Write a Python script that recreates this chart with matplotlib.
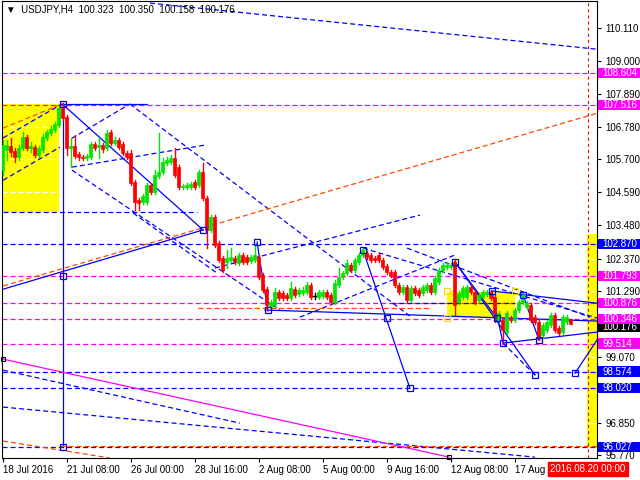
import matplotlib
matplotlib.use("Agg")
import matplotlib.pyplot as plt
from matplotlib.patches import Rectangle
from matplotlib.transforms import blended_transform_factory

plt.rcParams['font.family'] = ['Liberation Sans', 'DejaVu Sans']
plt.rcParams['lines.scale_dashes'] = False

# H4 bars from 18 Jul 2016 16:00 to 19 Aug 2016 08:00
opens = [105.34, 106.01, 106.14, 105.98, 105.78, 106.08, 106.45, 106.08, 106.11, 105.84,
         106.01, 106.42, 106.58, 106.68, 106.85, 107.42, 107.12, 106.08, 106.14, 105.88,
         105.78, 105.74, 105.78, 106.21, 106.11, 106.18, 106.08, 106.62, 106.25, 106.35,
         106.21, 105.91, 105.91, 104.94, 104.33, 104.27, 104.27, 104.84, 104.60, 105.14,
         105.27, 105.57, 105.61, 105.74, 105.44, 104.77, 104.77, 104.77, 104.94, 104.84,
         105.27, 104.40, 103.33, 103.76, 102.89, 102.38, 102.25, 102.32, 102.38, 102.22,
         102.48, 102.42, 102.28, 102.32, 102.42, 101.81, 101.34, 100.74, 100.81, 101.24,
         101.21, 101.14, 101.04, 101.34, 101.18, 101.21, 101.24, 101.48, 101.11, 101.07,
         101.11, 101.24, 101.14, 100.91, 101.48, 101.75, 101.88, 102.15, 101.98, 102.25,
         102.48, 102.55, 102.48, 102.38, 102.48, 102.32, 102.11, 101.91, 101.91, 101.48,
         101.24, 101.41, 100.97, 101.38, 101.31, 101.21, 101.31, 101.48, 101.24, 101.58,
         101.98, 102.08, 102.08, 102.25, 100.91, 101.07, 101.07, 101.41, 101.24, 100.97,
         101.07, 101.18, 101.24, 101.07, 100.30, 100.30, 99.90, 100.37, 100.30, 100.64,
         100.91, 100.74, 100.81, 100.40, 100.24, 99.80, 99.97, 100.13, 100.47, 100.03,
         99.90, 100.24, 100.323]
highs = [106.35, 106.35, 106.42, 106.08, 106.18, 106.62, 106.52, 106.28, 106.18, 106.14,
         106.55, 106.68, 106.82, 106.95, 107.49, 107.59, 107.19, 106.42, 106.52, 105.94,
         105.84, 105.88, 106.28, 106.28, 106.42, 106.25, 106.68, 106.68, 106.45, 106.42,
         106.28, 105.98, 106.01, 105.00, 104.40, 104.53, 104.90, 104.90, 105.34, 106.58,
         105.74, 105.78, 105.84, 106.08, 105.51, 104.87, 104.90, 104.94, 105.00, 105.34,
         105.57, 104.47, 103.83, 103.83, 102.96, 102.45, 102.65, 102.72, 102.45, 102.55,
         102.55, 102.48, 102.48, 102.86, 102.48, 101.88, 101.41, 100.97, 101.38, 101.31,
         101.28, 101.21, 101.58, 101.41, 101.38, 101.41, 101.58, 101.54, 101.21, 101.31,
         101.31, 101.31, 101.21, 101.65, 102.05, 101.95, 102.32, 102.22, 102.38, 102.55,
         102.72, 102.62, 102.55, 102.45, 102.55, 102.38, 102.18, 101.98, 101.98, 101.54,
         101.48, 101.48, 101.44, 101.44, 101.38, 101.48, 101.54, 101.54, 101.78, 102.05,
         102.22, 102.25, 102.22, 102.35, 101.28, 101.44, 101.48, 101.48, 101.31, 101.21,
         101.31, 101.31, 101.31, 101.14, 100.61, 100.37, 100.61, 100.44, 100.71, 100.97,
         101.21, 100.94, 100.87, 100.47, 100.30, 100.20, 100.30, 100.54, 100.54, 100.10,
         100.47, 100.47, 100.350]
lows = [105.17, 105.68, 105.81, 105.61, 105.68, 106.01, 106.01, 105.94, 105.78, 105.78,
        105.94, 106.35, 106.52, 106.62, 106.78, 107.02, 105.84, 105.44, 105.74, 105.68,
        105.68, 105.68, 105.71, 106.01, 105.74, 105.94, 106.01, 106.18, 106.18, 106.04,
        105.84, 105.71, 104.84, 104.00, 104.00, 104.20, 104.20, 104.53, 104.53, 105.07,
        105.21, 105.51, 105.54, 105.11, 104.70, 104.70, 104.70, 104.70, 104.70, 104.77,
        104.33, 102.72, 103.26, 102.75, 102.25, 101.91, 102.05, 102.25, 102.18, 102.15,
        102.18, 102.18, 102.22, 102.25, 101.68, 101.24, 100.64, 100.67, 100.74, 100.97,
        100.97, 100.97, 100.97, 101.07, 101.11, 101.14, 101.18, 101.01, 101.01, 101.01,
        101.04, 101.01, 100.84, 100.84, 101.41, 101.68, 101.81, 101.91, 101.91, 102.18,
        102.42, 102.35, 102.25, 102.25, 102.25, 102.01, 101.84, 101.75, 101.41, 101.18,
        101.18, 100.91, 100.91, 101.14, 101.07, 101.14, 101.24, 101.18, 101.18, 101.51,
        101.91, 102.01, 102.01, 100.47, 100.84, 101.01, 101.01, 101.18, 100.84, 100.91,
        101.01, 101.11, 100.97, 100.24, 100.24, 99.53, 99.84, 100.24, 100.24, 100.57,
        100.84, 100.67, 100.24, 100.17, 99.63, 99.70, 99.90, 100.07, 99.90, 99.80,
        99.84, 100.17, 100.158]
closes = [106.18, 106.18, 105.94, 105.78, 106.08, 106.45, 106.08, 106.14, 105.84, 106.08,
          106.45, 106.62, 106.72, 106.88, 107.42, 107.09, 106.08, 106.14, 105.81, 105.78,
          105.74, 105.81, 106.21, 106.08, 106.18, 106.04, 106.58, 106.25, 106.35, 106.11,
          105.91, 105.78, 104.90, 104.27, 104.23, 104.47, 104.84, 104.60, 105.17, 105.27,
          105.61, 105.68, 105.74, 105.17, 104.77, 104.80, 104.84, 104.87, 104.77, 105.27,
          104.40, 103.33, 103.76, 102.82, 102.32, 101.98, 102.38, 102.42, 102.25, 102.48,
          102.25, 102.25, 102.42, 102.48, 101.75, 101.31, 100.81, 100.91, 101.24, 101.04,
          101.04, 101.04, 101.38, 101.14, 101.31, 101.31, 101.48, 101.07, 101.11, 101.24,
          101.24, 101.07, 100.91, 101.54, 101.75, 101.88, 102.22, 101.98, 102.32, 102.48,
          102.65, 102.42, 102.32, 102.32, 102.32, 102.08, 101.91, 101.81, 101.48, 101.24,
          101.41, 100.97, 101.38, 101.21, 101.14, 101.41, 101.48, 101.24, 101.71, 101.98,
          102.15, 102.15, 102.15, 100.81, 101.21, 101.38, 101.41, 101.24, 100.91, 101.14,
          101.24, 101.24, 101.04, 100.54, 100.54, 99.97, 100.54, 100.30, 100.64, 100.91,
          101.14, 100.87, 100.30, 100.24, 99.73, 100.13, 100.24, 100.47, 99.97, 99.87,
          100.40, 100.40, 100.176]

symbol = "USDJPY,H4"

date_bars = [0, 16, 32, 48, 64, 80, 96, 112, 128]
date_labels = ["18 Jul 2016", "21 Jul 08:00", "26 Jul 00:00", "28 Jul 16:00", "2 Aug 08:00",
               "5 Aug 00:00", "9 Aug 16:00", "12 Aug 08:00", "17 Aug"]
future_bar = 146.3
future_label = "2016.08.20 00:00"

price_ticks = [110.110, 109.000, 107.890, 106.780, 105.700, 104.590, 103.480, 102.370,
               101.290, 99.070, 96.850, 95.770]
magenta_levels = [108.604, 107.516, 101.793, 100.876, 100.346, 99.514]
blue_levels = [102.870, 98.574, 98.020, 96.027]
last_price = 100.176

# analysis objects, in (bar, price)
yellow_boxes = [(-1.0, 14.1, 103.93, 107.56), (111.1, 128.1, 100.37, 101.28), (146.1, 149.5, 96.03, 103.20)]
blue_solid = [((0.1, 101.34), (50.1, 103.33)), ((14.9, 107.56), (50.1, 103.33)),
              ((14.9, 107.55), (36.1, 107.55)), ((15.1, 107.56), (15.1, 96.04)),
              ((63.6, 102.92), (66.3, 100.61)), ((65.6, 100.64), (148.6, 100.27)),
              ((90.1, 102.65), (101.8, 98.02)), ((113.1, 102.25), (123.6, 100.37)),
              ((122.3, 101.28), (125.1, 99.53)), ((125.1, 99.53), (148.6, 99.90)),
              ((130.1, 101.14), (134.1, 99.63)), ((122.3, 101.28), (148.6, 100.87)),
              ((113.1, 102.25), (133.1, 98.46)), ((143.1, 98.52), (148.6, 99.63))]
blue_dashed = [((36.8, 110.95), (148.6, 109.40)), ((0.1, 98.62), (59.3, 96.84)),
               ((0.1, 97.38), (133.1, 95.70)), ((31.8, 107.56), (101.8, 100.44)),
               ((17.3, 105.34), (69.3, 100.64)), ((17.3, 106.41), (31.8, 107.56)),
               ((17.3, 105.44), (50.6, 106.18)), ((0.0, 103.93), (48.6, 103.93)),
               ((53.1, 102.05), (104.3, 103.83)), ((74.3, 100.40), (113.1, 102.49)),
               ((90.1, 102.72), (148.6, 100.37)), ((101.1, 102.72), (146.8, 100.40)),
               ((32.6, 103.90), (53.6, 101.88)), ((125.1, 99.53), (133.1, 98.46)),
               ((0.1, 106.42), (14.8, 107.56)), ((0.1, 105.00), (14.3, 106.11)),
               ((97.0, 100.88), (128.1, 100.88))]
orange_dashed = [((0.1, 101.45), (148.6, 107.25)), ((0.1, 96.24), (26.8, 95.67)),
                 ((48.8, 100.71), (106.8, 100.71)), ((14.3, 96.06), (148.6, 96.06)),
                 ((0.1, 106.75), (14.8, 107.56))]
magenta_solid = [((0.1, 98.99), (111.6, 95.70))]
blue_marks = [(15.1, 107.56), (15.1, 101.79), (15.1, 96.04), (50.1, 103.33), (63.6, 102.92),
              (66.3, 100.64), (90.1, 102.65), (96.1, 100.37), (101.8, 98.02), (113.1, 102.25),
              (122.3, 101.28), (123.6, 100.37), (125.1, 99.53), (130.1, 101.14), (134.1, 99.63),
              (133.1, 98.46), (143.1, 98.52)]
black_marks = [(0.1, 98.99), (111.6, 95.70)]
yellow_marks = [(111.1, 101.28), (128.1, 101.28), (111.1, 100.37)]

BLUE = '#0000ff'
MAG = '#ff00ff'
ORANGE = '#ff4500'
BULL = '#00e600'
BEAR = '#ff0000'
dash = (0, (3.6, 2.2))

fig = plt.figure(figsize=(6.4, 4.8), dpi=100)
ax = fig.add_axes([2 / 640, 22 / 480, 595 / 640, 457 / 480])
ax.set_xlim(-0.175, 148.6)
ax.set_ylim(95.67, 111.02)

for x0, x1, p0, p1 in yellow_boxes:
    ax.add_patch(Rectangle((x0, p0), x1 - x0, p1 - p0, color='#ffff00', lw=0, zorder=1))

for p in price_ticks:
    ax.axhline(p, color='white', lw=0.8, ls=dash, zorder=1.5)

for p in magenta_levels:
    ax.axhline(p, color=MAG, lw=0.9, ls=dash, zorder=2)
for p in blue_levels:
    ax.axhline(p, color=BLUE, lw=0.9, ls=dash, zorder=2)
ax.axvline(future_bar, color=BEAR, lw=0.8, ls=(0, (2.2, 2.2)), zorder=2)

for (a, b) in blue_solid:
    ax.plot([a[0], b[0]], [a[1], b[1]], color=BLUE, lw=0.9, zorder=2.5)
for (a, b) in blue_dashed:
    ax.plot([a[0], b[0]], [a[1], b[1]], color=BLUE, lw=0.9, ls=dash, zorder=2.5)
for (a, b) in orange_dashed:
    ax.plot([a[0], b[0]], [a[1], b[1]], color=ORANGE, lw=0.9, ls=dash, zorder=2.5)
for (a, b) in magenta_solid:
    ax.plot([a[0], b[0]], [a[1], b[1]], color=MAG, lw=0.9, zorder=2.5)

# candles
for i in range(len(opens)):
    o, h, l, c = opens[i], highs[i], lows[i], closes[i]
    if c > o:
        col = BULL
    elif c < o:
        col = BEAR
    else:
        col = 'black'
    ax.plot([i, i], [l, h], color=col, lw=1.0, zorder=3)
    if c == o:
        ax.plot([i - 0.4, i + 0.4], [c, c], color=col, lw=1.0, zorder=3)
    else:
        ax.bar(i, abs(c - o), bottom=min(o, c), width=0.8, color=col,
               edgecolor=col, lw=0.5, zorder=3)

ax.plot([m[0] for m in blue_marks], [m[1] for m in blue_marks], 's', ms=4, mfc='none',
        mec=BLUE, mew=0.9, zorder=4)
ax.plot([m[0] for m in black_marks], [m[1] for m in black_marks], 's', ms=3.5, mfc='none',
        mec='black', mew=0.8, zorder=4, clip_on=False)
ax.plot([m[0] for m in yellow_marks], [m[1] for m in yellow_marks], 's', ms=4, mfc='none',
        mec='#ffd700', mew=0.8, zorder=4)

# axes / ticks
for s in ax.spines.values():
    s.set_color('black')
    s.set_linewidth(0.8)
ax.yaxis.tick_right()
ax.set_yticks(price_ticks, labels=[f"{p:.3f}" for p in price_ticks])
ax.set_xticks(date_bars, labels=date_labels)
for t in ax.get_xticklabels():
    t.set_horizontalalignment('left')
ax.tick_params(axis='y', length=3, width=0.8, pad=3, labelsize=7)
ax.tick_params(axis='x', length=3, width=0.8, pad=2, labelsize=7)

# price labels on the right (current price first, so the level boxes sit on top)
tr = blended_transform_factory(ax.transAxes, ax.transData)
boxes = [(last_price, 'black', 0.10)] + [(p, MAG, 0) for p in magenta_levels] + \
        [(p, BLUE, 0) for p in blue_levels]
for k, (p, col, shift) in enumerate(boxes):
    z = 9 + k * 0.01
    y = p - shift
    ax.add_patch(Rectangle((1.0017, y - 0.17), 0.0722, 0.34, transform=tr, color=col,
                           lw=0, clip_on=False, zorder=z))
    ax.text(1.0085, y, f"{p:.3f}", transform=tr, color='white', fontsize=7,
            va='center', ha='left', zorder=z + 0.005, clip_on=False)

# future date label
trx = blended_transform_factory(ax.transData, ax.transAxes)
ax.text(future_bar, -0.024, future_label, transform=trx, color='white', fontsize=7,
        ha='center', va='center', zorder=10, clip_on=False,
        bbox=dict(boxstyle='square,pad=0.25', fc=BEAR, ec=BEAR))

fig.text(6 / 640, 1 - 9 / 480, "\u25bc  " + symbol + "  " + "  ".join(
    f"{v:.3f}" for v in [opens[-1], highs[-1], lows[-1], closes[-1]]),
    fontsize=7, va='center', ha='left')

fig.savefig("out.png", dpi=100)
